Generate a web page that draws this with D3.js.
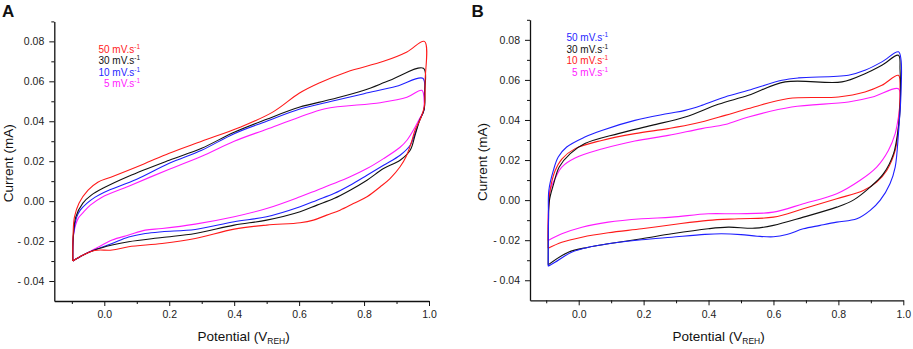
<!DOCTYPE html>
<html>
<head>
<meta charset="utf-8">
<script src="https://cdn.jsdelivr.net/npm/d3@7"></script>
<style>
  body { margin: 0; background: #fff; }
  svg { display: block; font-family: "Liberation Sans", Arial, sans-serif; }
  .axis path, .axis line { stroke: #111; }
  .axis path { stroke-width: 1.3; }
  .axis text { font-size: 10.5px; fill: #222; }
  .title { font-size: 13.5px; fill: #111; }
</style>
</head>
<body>
<svg id="chart" width="913" height="349"></svg>
<script>
// scan rates shown in the legends (top to bottom)
const legendLabels = ["50 mV.s", "30 mV.s", "10 mV.s", "5 mV.s"];

// tick values
const yMajor = [-0.04, -0.02, 0.00, 0.02, 0.04, 0.06, 0.08];
const yMinor = [-0.03, -0.01, 0.01, 0.03, 0.05, 0.07, 0.09];
const xMajor = [0.0, 0.2, 0.4, 0.6, 0.8, 1.0];
const xMinor = [-0.1, 0.1, 0.3, 0.5, 0.7, 0.9];

/* Panel A loops: [potential V, current mA], anodic sweep then cathodic sweep */
const loopA50 = [
  [-0.097, -0.030], [-0.096, -0.016], [-0.092, -0.008], [-0.078, -0.001], [-0.05, 0.0055],
  [-0.02, 0.0095], [0.02, 0.012], [0.12, 0.0185], [0.2, 0.0240], [0.3, 0.030],
  [0.418, 0.037], [0.52, 0.0447], [0.6, 0.054], [0.66, 0.059], [0.747, 0.0647],
  [0.86, 0.0700], [0.932, 0.0747], [0.986, 0.0800],
  [0.988, 0.060], [0.985, 0.047], [0.973, 0.041], [0.957, 0.0355], [0.945, 0.029],
  [0.93, 0.0225], [0.911, 0.0172], [0.88, 0.0113], [0.85, 0.0072], [0.809, 0.0022],
  [0.767, -0.0012], [0.726, -0.0045], [0.685, -0.007], [0.644, -0.0095], [0.603, -0.0108],
  [0.5, -0.012], [0.4, -0.014], [0.28, -0.0187], [0.178, -0.0212], [0.075, -0.0228],
  [0.024, -0.0245], [-0.03, -0.0247], [-0.065, -0.027], [-0.097, -0.030]
];
const loopA30 = [
  [-0.097, -0.030], [-0.096, -0.019], [-0.088, -0.008], [-0.066, -0.001], [-0.04, 0.003],
  [0.0, 0.0068], [0.075, 0.0125], [0.2, 0.0205], [0.3, 0.0265], [0.4, 0.0345],
  [0.5, 0.041], [0.6, 0.047], [0.7, 0.051], [0.8, 0.0555], [0.88, 0.0605],
  [0.983, 0.0665],
  [0.987, 0.055], [0.985, 0.046], [0.97, 0.040], [0.957, 0.033], [0.942, 0.0255],
  [0.911, 0.0205], [0.86, 0.0163], [0.809, 0.0105], [0.757, 0.0055], [0.707, 0.0013],
  [0.655, -0.002], [0.603, -0.0053], [0.5, -0.0095], [0.4, -0.012], [0.28, -0.0162],
  [0.178, -0.0182], [0.075, -0.0203], [0.024, -0.022], [-0.03, -0.0245], [-0.065, -0.027],
  [-0.097, -0.030]
];
const loopA10 = [
  [-0.097, -0.030], [-0.095, -0.017], [-0.085, -0.008], [-0.074, -0.0045], [-0.053, -0.001],
  [-0.028, 0.002], [0.0, 0.0045], [0.1, 0.011], [0.2, 0.019], [0.3, 0.0255],
  [0.4, 0.0338], [0.5, 0.040], [0.6, 0.046], [0.7, 0.050], [0.8, 0.0538],
  [0.9, 0.0575], [0.981, 0.0615],
  [0.986, 0.053], [0.985, 0.046], [0.97, 0.040], [0.957, 0.034], [0.942, 0.028],
  [0.911, 0.023], [0.86, 0.018], [0.809, 0.013], [0.757, 0.008], [0.707, 0.0038],
  [0.655, 0.0005], [0.603, -0.0028], [0.5, -0.0078], [0.4, -0.0103], [0.28, -0.0142],
  [0.178, -0.0153], [0.126, -0.0162], [0.075, -0.018], [0.024, -0.0212], [-0.03, -0.0245],
  [-0.065, -0.027], [-0.097, -0.030]
];
const loopA5 = [
  [-0.097, -0.030], [-0.094, -0.016], [-0.08, -0.0085], [-0.064, -0.0055], [-0.043, -0.002],
  [-0.007, 0.002], [0.075, 0.0075], [0.2, 0.0160], [0.3, 0.0225], [0.4, 0.030],
  [0.5, 0.036], [0.6, 0.042], [0.68, 0.0463], [0.85, 0.0493], [0.932, 0.0520],
  [0.978, 0.0555],
  [0.985, 0.050], [0.983, 0.045], [0.97, 0.041], [0.957, 0.037], [0.932, 0.0305],
  [0.911, 0.027], [0.86, 0.0213], [0.809, 0.0163], [0.757, 0.0122], [0.707, 0.0088],
  [0.655, 0.0055], [0.603, 0.0022], [0.5, -0.0037], [0.4, -0.0078], [0.28, -0.0115],
  [0.178, -0.0137], [0.126, -0.0145], [0.075, -0.017], [0.024, -0.0195], [-0.03, -0.024],
  [-0.065, -0.027], [-0.097, -0.030]
];

/* Panel B loops */
const loopB50 = [
  [-0.094, -0.033], [-0.093, -0.010], [-0.092, 0.0048], [-0.078, 0.0148], [-0.063, 0.0215],
  [-0.037, 0.0265], [0.019, 0.0315], [0.071, 0.0348], [0.173, 0.0398], [0.276, 0.0432],
  [0.328, 0.0448], [0.379, 0.0473], [0.451, 0.0515], [0.523, 0.0548], [0.626, 0.0598],
  [0.677, 0.0610], [0.831, 0.0623], [0.882, 0.0648], [0.934, 0.0690], [0.985, 0.0740],
  [0.993, 0.070], [0.992, 0.050], [0.988, 0.040], [0.985, 0.0332], [0.975, 0.0165],
  [0.959, 0.0082], [0.929, 0.0], [0.898, -0.0051], [0.857, -0.0093], [0.795, -0.011],
  [0.744, -0.0126], [0.692, -0.0143], [0.641, -0.0172], [0.6, -0.0183], [0.55, -0.018],
  [0.5, -0.0172], [0.44, -0.0168], [0.389, -0.0171], [0.287, -0.0185], [0.194, -0.0198],
  [0.091, -0.0218], [0.03, -0.0235], [-0.022, -0.026], [-0.073, -0.031], [-0.094, -0.033]
];
const loopB30 = [
  [-0.094, -0.0323], [-0.093, -0.010], [-0.09, 0.0], [-0.077, 0.0082], [-0.06, 0.0165],
  [-0.026, 0.0232], [0.019, 0.0282], [0.122, 0.0332], [0.225, 0.0373], [0.328, 0.0415],
  [0.43, 0.0478], [0.523, 0.0523], [0.636, 0.0590], [0.811, 0.0590], [0.882, 0.0631],
  [0.934, 0.0673], [0.985, 0.0723],
  [0.99, 0.065], [0.99, 0.045], [0.985, 0.0365], [0.97, 0.0232], [0.939, 0.0132],
  [0.898, 0.0065], [0.846, 0.0], [0.795, -0.0035], [0.692, -0.0085], [0.6, -0.0126],
  [0.543, -0.014], [0.461, -0.0135], [0.399, -0.0143], [0.287, -0.0168], [0.194, -0.0193],
  [0.091, -0.0218], [0.03, -0.0235], [-0.032, -0.026], [-0.094, -0.0323]
];
const loopB10 = [
  [-0.094, -0.024], [-0.093, -0.005], [-0.088, 0.005], [-0.073, 0.0145], [-0.052, 0.0205],
  [-0.011, 0.0257], [0.071, 0.0298], [0.173, 0.0332], [0.276, 0.0357], [0.358, 0.0382],
  [0.451, 0.0423], [0.523, 0.0457], [0.646, 0.0507], [0.80, 0.0515], [0.882, 0.0540],
  [0.934, 0.0573], [0.985, 0.0623],
  [0.99, 0.055], [0.988, 0.045], [0.985, 0.0365], [0.975, 0.0248], [0.949, 0.0148],
  [0.918, 0.009], [0.877, 0.0048], [0.795, 0.0007], [0.692, -0.0043], [0.6, -0.0085],
  [0.492, -0.0093], [0.399, -0.0101], [0.287, -0.0123], [0.194, -0.0143], [0.091, -0.0163],
  [0.01, -0.0185], [-0.052, -0.021], [-0.094, -0.024]
];
const loopB5 = [
  [-0.094, -0.0201], [-0.093, -0.005], [-0.088, 0.005], [-0.072, 0.011], [-0.052, 0.0165],
  [-0.011, 0.021], [0.071, 0.0255], [0.173, 0.0295], [0.276, 0.0323], [0.379, 0.0357],
  [0.451, 0.0377], [0.523, 0.0415], [0.656, 0.0465], [0.831, 0.0490], [0.905, 0.0515],
  [0.985, 0.0556],
  [0.99, 0.050], [0.988, 0.045], [0.985, 0.0415], [0.975, 0.0332], [0.954, 0.0248],
  [0.918, 0.0165], [0.866, 0.0098], [0.795, 0.0032], [0.692, -0.0018], [0.6, -0.006],
  [0.492, -0.0068], [0.399, -0.0068], [0.287, -0.0085], [0.194, -0.0093], [0.091, -0.011],
  [0.01, -0.0135], [-0.052, -0.0168], [-0.094, -0.0201]
];

const red = "#ff1a1a", black = "#111111", blue = "#1f1fff", magenta = "#ff1aff";

const svg = d3.select("#chart");

drawPanel({
  letter: "A", letterX: 2,
  xRange: [54.3, 429], xDomain: [-0.154, 1.0],
  yRange: [301, 21.4],
  yTitleX: 12.5,
  legendX: 140, legendY: 52.5,
  loops: [loopA50, loopA30, loopA10, loopA5],
  colors: [red, black, blue, magenta]
});

drawPanel({
  letter: "B", letterX: 471.5,
  xRange: [530, 903.3], xDomain: [-0.15, 1.0],
  yRange: [300.3, 19.8],
  yTitleX: 487,
  legendX: 608, legendY: 41,
  loops: [loopB50, loopB30, loopB10, loopB5],
  colors: [blue, black, red, magenta]
});

// ---------------- Function definitions ---------------- //

function drawPanel(cfg) {
  const g = svg.append("g");

  const xScale = d3.scaleLinear().domain(cfg.xDomain).range(cfg.xRange);
  const yScale = d3.scaleLinear().domain([-0.05, 0.09]).range(cfg.yRange);
  const x0 = cfg.xRange[0], yBase = cfg.yRange[0];

  // minor ticks first, then the major axes on top
  g.append("g")
    .attr("class", "axis")
    .attr("transform", "translate(0," + yBase + ")")
    .call(d3.axisBottom(xScale).tickValues(xMinor).tickSize(3).tickSizeOuter(0).tickFormat(""))
    .select(".domain").remove();
  g.append("g")
    .attr("class", "axis")
    .attr("transform", "translate(" + x0 + ",0)")
    .call(d3.axisLeft(yScale).tickValues(yMinor).tickSize(3).tickSizeOuter(0).tickFormat(""))
    .select(".domain").remove();

  g.append("g")
    .attr("class", "axis")
    .attr("transform", "translate(0," + yBase + ")")
    .call(d3.axisBottom(xScale).tickValues(xMajor).tickSize(5).tickSizeOuter(0)
      .tickPadding(5).tickFormat(d3.format(".1f")));
  g.append("g")
    .attr("class", "axis")
    .attr("transform", "translate(" + x0 + ",0)")
    .call(d3.axisLeft(yScale).tickValues(yMajor).tickSize(5).tickSizeOuter(0)
      .tickPadding(5).tickFormat(d => d3.format(".2f")(d).replace("\u2212", "- ")));

  // the CV loops
  const line = d3.line()
    .x(d => xScale(d[0]))
    .y(d => yScale(d[1]))
    .curve(d3.curveCatmullRom.alpha(0.5));

  g.append("g")
    .selectAll("path")
    .data(cfg.loops.slice().reverse())
    .join("path")
    .attr("d", line)
    .attr("fill", "none")
    .attr("stroke", (d, i) => cfg.colors[cfg.loops.length - 1 - i])
    .attr("stroke-width", 1.1)
    .attr("stroke-linejoin", "round");

  // legend
  const legend = g.append("g").attr("font-size", "10px");
  legendLabels.forEach((label, i) => {
    const t = legend.append("text")
      .attr("x", cfg.legendX)
      .attr("y", cfg.legendY + i * 11.5)
      .attr("text-anchor", "end")
      .attr("fill", cfg.colors[i]);
    t.append("tspan").text(label);
    t.append("tspan").attr("dy", -4).attr("font-size", "6.5px").text("-1");
  });

  // axis titles
  const xMid = (cfg.xRange[0] + cfg.xRange[1]) / 2 + 2;
  const xt = g.append("text")
    .attr("class", "title")
    .attr("x", xMid)
    .attr("y", 341)
    .attr("text-anchor", "middle");
  xt.append("tspan").text("Potential (V");
  xt.append("tspan").attr("dy", 3).attr("font-size", "8.5px").text("REH");
  xt.append("tspan").attr("dy", -3).text(")");

  g.append("text")
    .attr("class", "title")
    .attr("transform", "translate(" + cfg.yTitleX + "," + ((cfg.yRange[0] + cfg.yRange[1]) / 2 + 2) + ") rotate(-90)")
    .attr("text-anchor", "middle")
    .text("Current (mA)");

  // panel letter
  g.append("text")
    .attr("x", cfg.letterX)
    .attr("y", 17)
    .attr("font-size", "17px")
    .attr("font-weight", "bold")
    .attr("fill", "#111")
    .text(cfg.letter);
}
</script>
</body>
</html>
